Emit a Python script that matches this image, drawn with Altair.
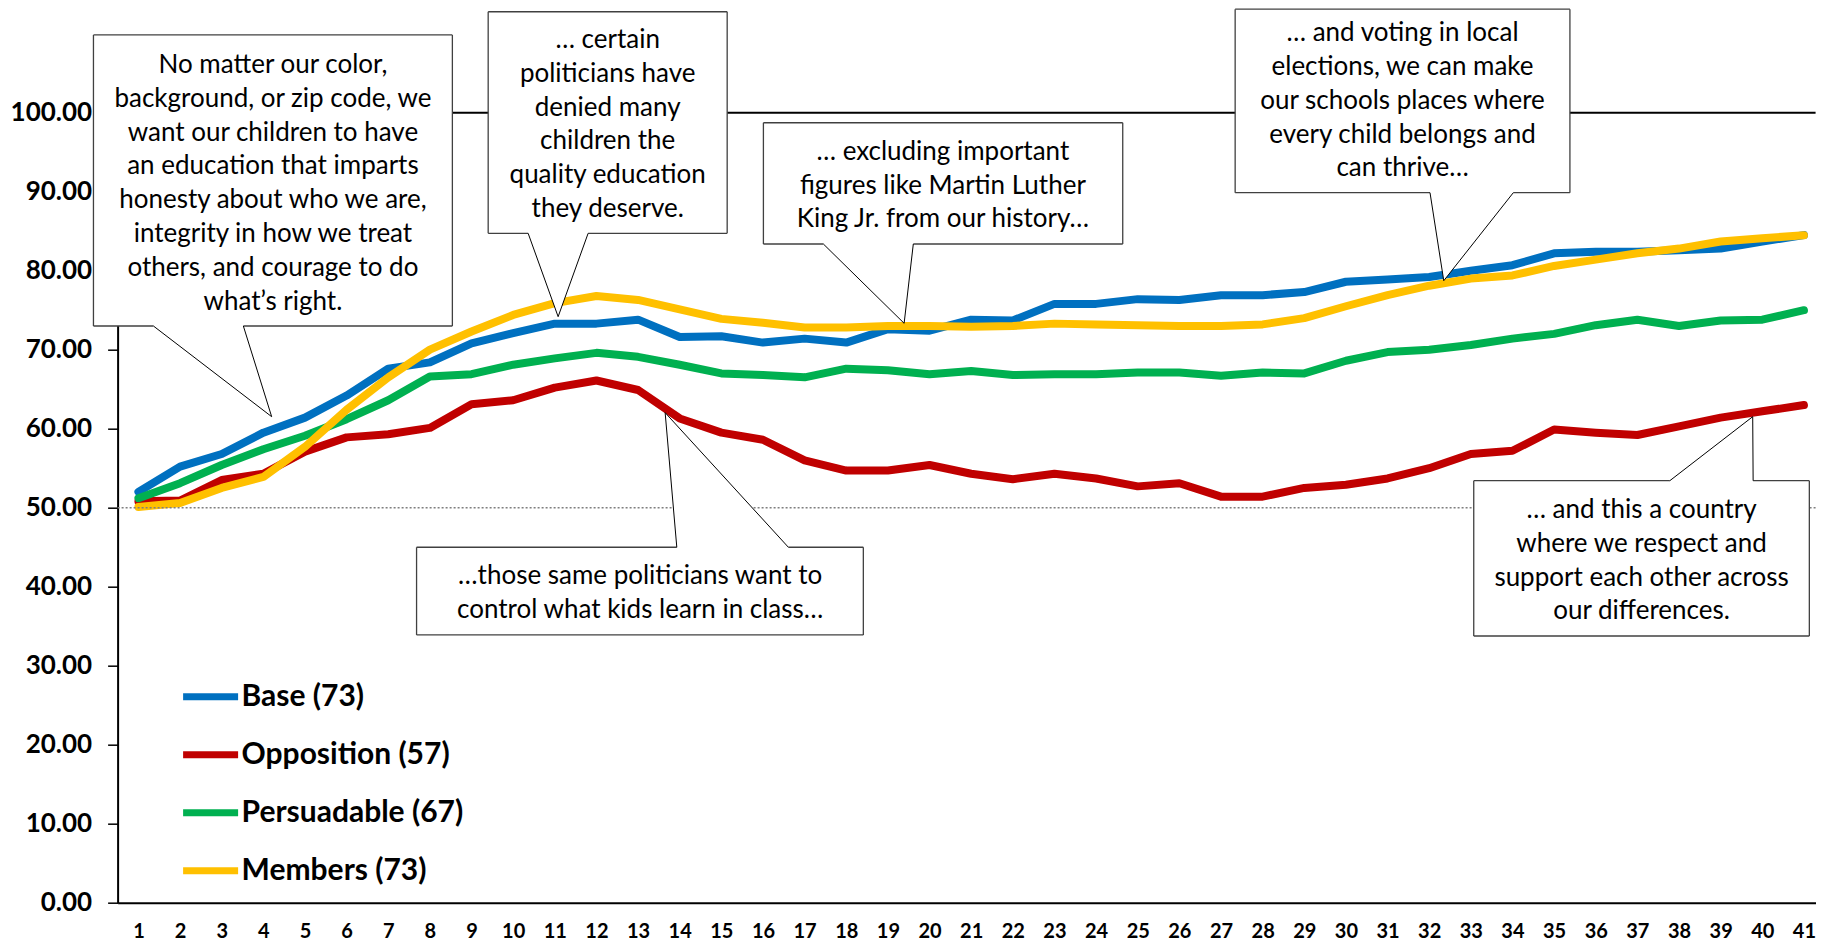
import altair as alt
import pandas as pd

# ---------------- data ----------------
x_cats = list(range(1, 42))
series_names = ["Base (73)", "Opposition (57)", "Persuadable (67)", "Members (73)"]
series_colors = ["#0070C0", "#C00000", "#00B050", "#FFC000"]

base = [52.0, 55.2, 56.8, 59.5, 61.4, 64.2, 67.6, 68.4, 70.8, 72.1,
        73.3, 73.3, 73.8, 71.6, 71.7, 70.9, 71.4, 70.9, 72.6, 72.4,
        73.8, 73.7, 75.8, 75.8, 76.4, 76.3, 76.9, 76.9, 77.3, 78.6,
        78.9, 79.2, 80.0, 80.7, 82.2, 82.4, 82.4, 82.6, 82.8, 83.7, 84.5]
opposition = [50.8, 50.9, 53.5, 54.3, 57.1, 58.9, 59.3, 60.1, 63.1, 63.6,
              65.2, 66.1, 64.9, 61.3, 59.5, 58.6, 56.0, 54.7, 54.7, 55.4,
              54.3, 53.6, 54.3, 53.7, 52.7, 53.1, 51.4, 51.4, 52.5, 52.9,
              53.7, 55.0, 56.8, 57.2, 59.9, 59.5, 59.2, 60.3, 61.4, 62.2, 63.0]
persuadable = [51.2, 53.1, 55.4, 57.4, 59.1, 61.2, 63.6, 66.6, 66.9, 68.1,
               68.9, 69.6, 69.1, 68.1, 67.0, 66.8, 66.5, 67.6, 67.4, 66.9,
               67.3, 66.8, 66.9, 66.9, 67.1, 67.1, 66.7, 67.1, 67.0, 68.6,
               69.7, 70.0, 70.6, 71.4, 72.0, 73.1, 73.8, 73.0, 73.7, 73.8, 75.0]
members = [50.1, 50.6, 52.5, 53.9, 57.7, 62.4, 66.5, 70.0, 72.3, 74.4,
           75.9, 76.8, 76.3, 75.1, 73.9, 73.4, 72.8, 72.8, 73.0, 73.0,
           72.9, 73.0, 73.3, 73.2, 73.1, 73.0, 73.0, 73.2, 74.0, 75.5,
           76.9, 78.1, 79.0, 79.4, 80.6, 81.4, 82.2, 82.8, 83.7, 84.1, 84.5]
y_ticks = list(range(0, 101, 10))

callout_texts = [
    "No matter our color,\nbackground, or zip code, we\nwant our children to have\nan education that imparts\nhonesty about who we are,\nintegrity in how we treat\nothers, and courage to do\nwhat\u2019s right.",
    "\u2026 certain\npoliticians have\ndenied many\nchildren the\nquality education\nthey deserve.",
    "\u2026 excluding important\nfigures like Martin Luther\nKing Jr. from our history\u2026",
    "\u2026 and voting in local\nelections, we can make\nour schools places where\nevery child belongs and\ncan thrive\u2026",
    "\u2026those same politicians want to\ncontrol what kids learn in class\u2026",
    "\u2026 and this a country\nwhere we respect and\nsupport each other across\nour differences.",
]
# callout geometry in data units (question index, score); text y = first line
text_cx = [4.23, 12.27, 20.32, 31.36, 13.05, 37.10]
text_cy = [106.04, 109.2, 95.06, 110.05, 41.39, 49.71]
box_x1 = [-0.08, 9.40, 16.01, 27.34, 7.68, 33.07]
box_x2 = [8.54, 15.14, 24.64, 35.38, 18.41, 41.13]
box_top = [109.84, 112.78, 98.73, 113.1, 44.99, 53.42]
box_bot = [73.0, 84.73, 83.38, 89.87, 33.89, 33.76]
wedge_side = ["bottom", "bottom", "bottom", "bottom", "top", "top"]
wedge_l = [1.36, 10.36, 17.45, 32.02, 13.93, 37.78]
wedge_r = [3.52, 11.80, 19.61, 34.02, 16.61, 39.78]
tip_x = [4.20, 11.08, 19.39, 32.35, 13.65, 39.77]
tip_y = [61.52, 74.18, 73.34, 78.73, 62.03, 61.52]

# ---------------- tables ----------------
rows = []
for name, vals in zip(series_names, [base, opposition, persuadable, members]):
    for q, v in zip(x_cats, vals):
        rows.append({"q": q, "score": v, "group": name})
df = pd.DataFrame(rows)

rects, wedges, borders, edges, texts = [], [], [], [], []
for i in range(len(callout_texts)):
    x1, x2, yt, yb = box_x1[i], box_x2[i], box_top[i], box_bot[i]
    rects.append({"q": x1, "q2": x2, "score": yt, "score2": yb})
    wy = yb if wedge_side[i] == "bottom" else yt
    wedges.append({"id": i, "score": wy, "q": wedge_l[i], "q2": wedge_r[i]})
    wedges.append({"id": i, "score": tip_y[i], "q": tip_x[i], "q2": tip_x[i]})
    borders.append({"q": x1, "score": yt, "q2": x1, "score2": yb})
    borders.append({"q": x2, "score": yt, "q2": x2, "score2": yb})
    if wedge_side[i] == "bottom":
        borders.append({"q": x1, "score": yt, "q2": x2, "score2": yt})
        borders.append({"q": x1, "score": yb, "q2": wedge_l[i], "score2": yb})
        borders.append({"q": wedge_r[i], "score": yb, "q2": x2, "score2": yb})
    else:
        borders.append({"q": x1, "score": yb, "q2": x2, "score2": yb})
        borders.append({"q": x1, "score": yt, "q2": wedge_l[i], "score2": yt})
        borders.append({"q": wedge_r[i], "score": yt, "q2": x2, "score2": yt})
    edges.append({"q": wedge_l[i], "score": wy, "q2": tip_x[i], "score2": tip_y[i]})
    edges.append({"q": wedge_r[i], "score": wy, "q2": tip_x[i], "score2": tip_y[i]})
    texts.append({"q": text_cx[i], "score": text_cy[i], "t": callout_texts[i]})

FONT = "Lato"
xs = alt.Scale(domain=[0.5, 41.28], nice=False, zero=False)
ys = alt.Scale(domain=[0, 100], nice=False)


def X(field="q:Q"):
    return alt.X(field, scale=xs, title=None)


def Y(field="score:Q"):
    return alt.Y(field, scale=ys, title=None)


lines = alt.Chart(df).mark_line(strokeWidth=8, strokeCap="round", strokeJoin="round").encode(
    x=alt.X("q:Q", scale=xs, title=None,
            axis=alt.Axis(values=x_cats, format="d", ticks=False, grid=False,
                          domainColor="black", domainWidth=2,
                          labelFont=FONT, labelFontWeight="bold", labelFontSize=20,
                          labelColor="black", labelPadding=19, labelFlush=False,
                          labelOverlap=False)),
    y=alt.Y("score:Q", scale=ys, title=None,
            axis=alt.Axis(values=y_ticks, format=".2f", grid=False,
                          domainColor="black", domainWidth=2,
                          tickColor="black", tickSize=10, tickWidth=1.5,
                          labelFont=FONT, labelFontWeight="bold", labelFontSize=26,
                          labelColor="black", labelPadding=16)),
    color=alt.Color("group:N", sort=series_names,
                    scale=alt.Scale(domain=series_names, range=series_colors),
                    legend=alt.Legend(orient="none", legendX=62, legendY=553, title=None,
                                      symbolType="stroke", symbolSize=3025,
                                      symbolStrokeWidth=7, labelFont=FONT,
                                      labelFontWeight="bold", labelFontSize=30,
                                      labelColor="black", rowPadding=12, labelOffset=0,
                                      padding=0, labelLimit=600)),
    order=alt.Order("q:Q"),
)

ref_top = pd.DataFrame({"score": [100]})
ref_mid = pd.DataFrame({"score": [50]})
top_rule = alt.Chart(ref_top).mark_rule(color="black", strokeWidth=2).encode(y=Y())
mid_rule = alt.Chart(ref_mid).mark_rule(
    color="#7f7f7f", strokeWidth=1.5, strokeDash=[2, 2]).encode(y=Y())

box_layer = alt.Chart(pd.DataFrame(rects)).mark_rect(fill="white", strokeWidth=0).encode(
    x=X(), x2="q2:Q", y=Y(), y2="score2:Q")

wedge_layer = alt.Chart(pd.DataFrame(wedges)).mark_area(
    orient="horizontal", fill="white", opacity=1).encode(
    y=Y(), x=X(), x2="q2:Q", detail="id:N")

border_layer = alt.Chart(pd.DataFrame(borders)).mark_rule(
    color="#404040", strokeWidth=1.3).encode(
    x=X(), y=Y(), x2="q2:Q", y2="score2:Q")

edge_layer = alt.Chart(pd.DataFrame(edges)).mark_rule(
    color="black", strokeWidth=1).encode(
    x=X(), y=Y(), x2="q2:Q", y2="score2:Q")

text_layer = alt.Chart(pd.DataFrame(texts)).mark_text(
    font=FONT, fontSize=26, lineHeight=33.8, lineBreak="\n", align="center",
    baseline="middle", color="black").encode(
    x=X(), y=Y(), text="t:N")

chart = alt.layer(
    lines, mid_rule, top_rule, box_layer, wedge_layer, border_layer, edge_layer, text_layer
).properties(
    width=1698, height=790,
    padding={"left": 109.6, "top": 104.7, "right": 0, "bottom": 40},
    autosize=alt.AutoSizeParams(type="none"),
    background="white",
).configure_view(stroke=None)

chart.save("out.html", embed_options={"renderer": "svg", "actions": False})
